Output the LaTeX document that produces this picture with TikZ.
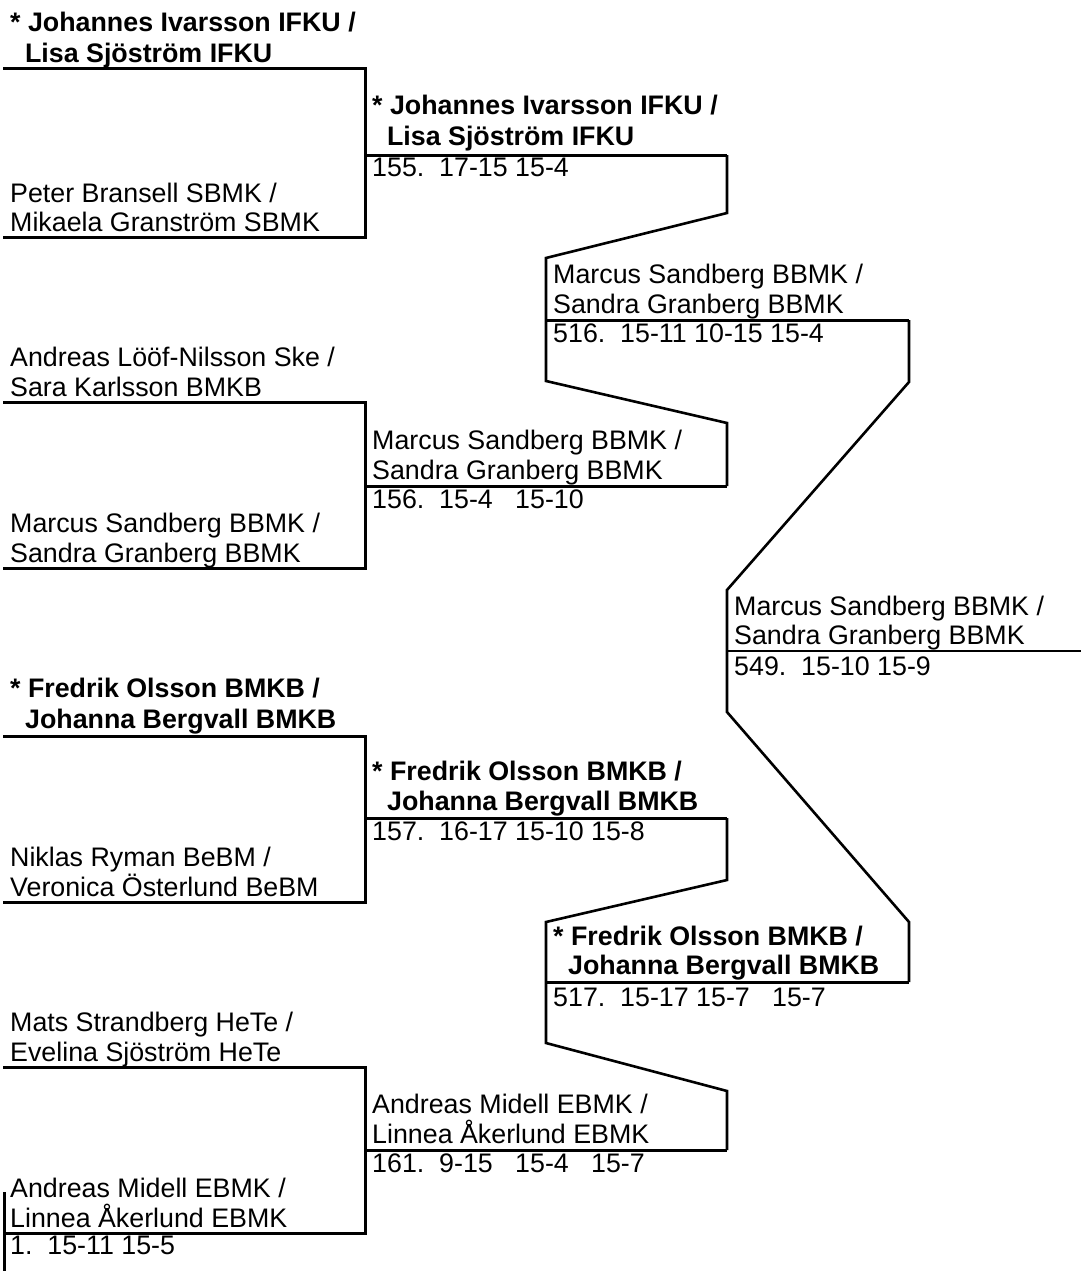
\documentclass[tikz,border=0pt]{standalone}
\usepackage{fontspec}
\setmainfont{Liberation Sans}
\begin{document}
\begin{tikzpicture}[x=1pt,y=-1pt,
  txt/.style={anchor=base west,inner sep=0pt,font=\fontsize{26.8}{30}\selectfont},
  bd/.style={txt,font=\fontsize{26.8}{30}\selectfont\bfseries},
  sc/.style={txt},
  br/.style={line width=3pt,line join=miter},
  cn/.style={line width=2.6pt,line join=miter},
  fin/.style={line width=2.2pt}]
\useasboundingbox (0,0) rectangle (1081,1271);
\newcommand{\twosp}{\hspace*{.556em}}
% ---------- round 1 texts ----------
\node[bd]  (t1a) at (10,32)  {* Johannes Ivarsson IFKU /};
\node[bd]  (t1b) at (10,63)  {\twosp Lisa Sjöström IFKU};
\node[txt] (t2a) at (10,202) {Peter Bransell SBMK /};
\node[txt] (t2b) at (10,231) {Mikaela Granström SBMK};
\node[txt] (t3a) at (10,366) {Andreas Lööf-Nilsson Ske /};
\node[txt] (t3b) at (10,396) {Sara Karlsson BMKB};
\node[txt] (t4a) at (10,532) {Marcus Sandberg BBMK /};
\node[txt] (t4b) at (10,562) {Sandra Granberg BBMK};
\node[bd]  (t5a) at (10,697) {* Fredrik Olsson BMKB /};
\node[bd]  (t5b) at (10,728) {\twosp Johanna Bergvall BMKB};
\node[txt] (t6a) at (10,866) {Niklas Ryman BeBM /};
\node[txt] (t6b) at (10,896) {Veronica Österlund BeBM};
\node[txt] (t7a) at (10,1031) {Mats Strandberg HeTe /};
\node[txt] (t7b) at (10,1061) {Evelina Sjöström HeTe};
\node[txt] (t8a) at (10,1197) {Andreas Midell EBMK /};
\node[txt] (t8b) at (10,1227) {Linnea Åkerlund EBMK};
\node[sc]  (s1)  at (10,1254) {1.~~15-11 15-5};
% ---------- round 2 texts ----------
\node[bd]  (u1a) at (372,115) {* Johannes Ivarsson IFKU /};
\node[bd]  (u1b) at (372,146) {\twosp Lisa Sjöström IFKU};
\node[sc]  (s155) at (372,176) {155.~~17-15 15-4};
\node[txt] (u2a) at (372,449) {Marcus Sandberg BBMK /};
\node[txt] (u2b) at (372,479) {Sandra Granberg BBMK};
\node[sc]  (s156) at (372,508) {156.~~15-4~~~15-10};
\node[bd]  (u3a) at (372,780) {* Fredrik Olsson BMKB /};
\node[bd]  (u3b) at (372,810) {\twosp Johanna Bergvall BMKB};
\node[sc]  (s157) at (372,840) {157.~~16-17 15-10 15-8};
\node[txt] (u4a) at (372,1113) {Andreas Midell EBMK /};
\node[txt] (u4b) at (372,1143) {Linnea Åkerlund EBMK};
\node[sc]  (s161) at (372,1172) {161.~~9-15~~~15-4~~~15-7};
% ---------- round 3 texts ----------
\node[txt] (v1a) at (553,283) {Marcus Sandberg BBMK /};
\node[txt] (v1b) at (553,313) {Sandra Granberg BBMK};
\node[sc]  (s516) at (553,342) {516.~~15-11 10-15 15-4};
\node[bd]  (v2a) at (553,945) {* Fredrik Olsson BMKB /};
\node[bd]  (v2b) at (553,974) {\twosp Johanna Bergvall BMKB};
\node[sc]  (s517) at (553,1006) {517.~~15-17 15-7~~~15-7};
% ---------- final ----------
\node[txt] (w1a) at (734,615) {Marcus Sandberg BBMK /};
\node[txt] (w1b) at (734,644) {Sandra Granberg BBMK};
\node[sc]  (s549) at (734,675) {549.~~15-10 15-9};
% ---------- coordinates ----------
\coordinate (a1) at (3,69);   \coordinate (a1r) at (365,69);
\coordinate (b1) at (3,237);  \coordinate (b1r) at (365,237);
\coordinate (a2) at (3,402);  \coordinate (a2r) at (365,402);
\coordinate (b2) at (3,568);  \coordinate (b2r) at (365,568);
\coordinate (a3) at (3,736);  \coordinate (a3r) at (365,736);
\coordinate (b3) at (3,902);  \coordinate (b3r) at (365,902);
\coordinate (a4) at (3,1067); \coordinate (a4r) at (365,1067);
\coordinate (b4) at (3,1233); \coordinate (b4r) at (365,1233);
\coordinate (z1) at (4,1192); \coordinate (z2) at (4,1271);
\coordinate (m155l) at (365,155);  \coordinate (m155r) at (727,155);
\coordinate (m156l) at (365,486);  \coordinate (m156r) at (727,486);
\coordinate (m157l) at (365,818);  \coordinate (m157r) at (727,818);
\coordinate (m161l) at (365,1150); \coordinate (m161r) at (727,1150);
\coordinate (c1) at (727,213); \coordinate (c2) at (546,258);
\coordinate (c3) at (546,381); \coordinate (c4) at (727,423);
\coordinate (d1) at (727,880); \coordinate (d2) at (546,922);
\coordinate (d3) at (546,1043); \coordinate (d4) at (727,1091);
\coordinate (m516l) at (546,320); \coordinate (m516r) at (909,320);
\coordinate (m517l) at (546,982); \coordinate (m517r) at (909,982);
\coordinate (e1) at (909,382); \coordinate (e2) at (727,590);
\coordinate (e3) at (727,712); \coordinate (e4) at (909,922);
\coordinate (m549l) at (727,651); \coordinate (m549r) at (1081,651);
% ---------- lines ----------
\draw[br] (a1) -- (a1r) -- (b1r) -- (b1);
\draw[br] (a2) -- (a2r) -- (b2r) -- (b2);
\draw[br] (a3) -- (a3r) -- (b3r) -- (b3);
\draw[br] (a4) -- (a4r) -- (b4r) -- (b4);
\draw[br] (z1) -- (z2);
\draw[br] (m155l) -- (m155r);
\draw[br] (m156l) -- (m156r);
\draw[br] (m157l) -- (m157r);
\draw[br] (m161l) -- (m161r);
\draw[cn] (m155r) -- (c1) -- (c2) -- (c3) -- (c4) -- (m156r);
\draw[cn] (m157r) -- (d1) -- (d2) -- (d3) -- (d4) -- (m161r);
\draw[br] (m516l) -- (m516r);
\draw[br] (m517l) -- (m517r);
\draw[cn] (m516r) -- (e1) -- (e2) -- (e3) -- (e4) -- (m517r);
\draw[fin] (m549l) -- (m549r);
\end{tikzpicture}
\end{document}
